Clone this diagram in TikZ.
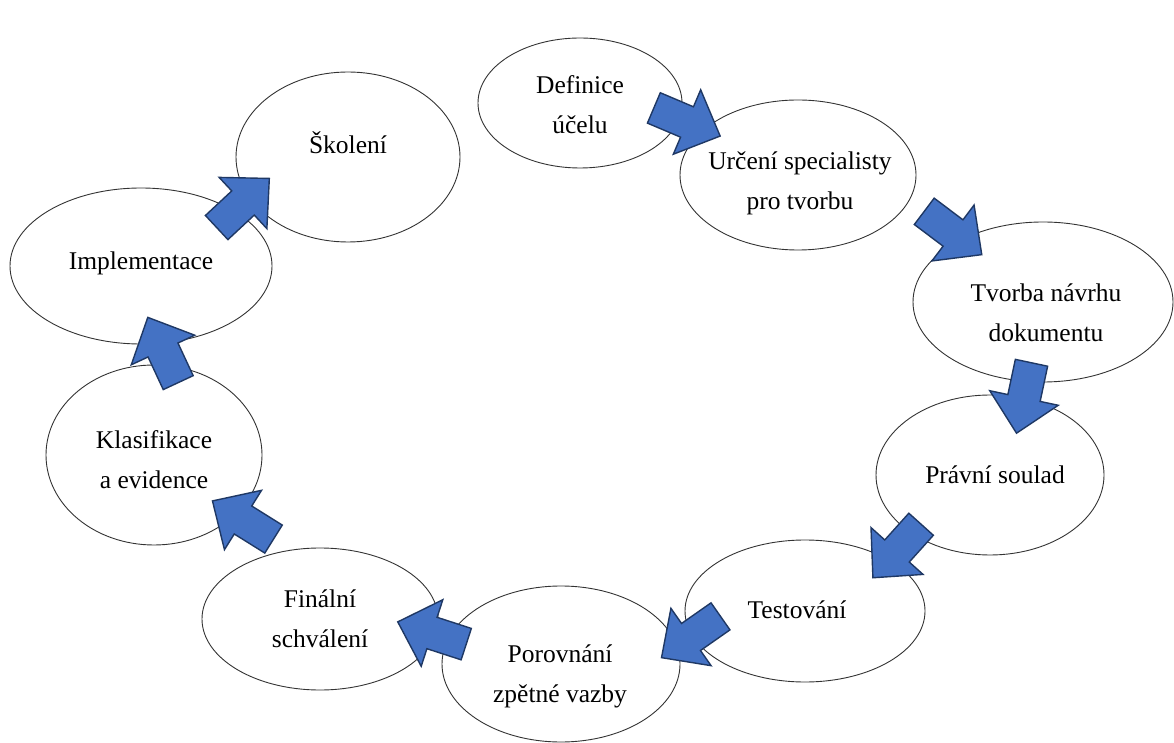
\documentclass[tikz,border=0pt]{standalone}
\usepackage{fontspec}
\setmainfont{Liberation Serif}
\usetikzlibrary{shapes.geometric}
\definecolor{arrowfill}{HTML}{4472C4}
\definecolor{arrowline}{HTML}{1F3864}
\newcommand{\blockarrow}[4]{%
  \draw[barrow, shift={(#2,#3)}, rotate=#4]
    (-36,16.5) -- (0,16.5) -- (0,35) -- (36,0) -- (0,-35) -- (0,-16.5) -- (-36,-16.5) -- cycle;
  \coordinate (#1) at (#2,#3);}
\begin{document}
\begin{tikzpicture}[x=1pt,y=1pt,
  oval/.style={ellipse, draw=black!80, line width=0.9pt, inner sep=0pt},
  lbl/.style={align=center, font=\fontsize{25.5}{40}\selectfont, inner sep=0pt},
  barrow/.style={fill=arrowfill, draw=arrowline, line width=1.4pt, line join=miter}]
\useasboundingbox (0,0) rectangle (1174,742);
% ellipses (centre, width = 2 rx, height = 2 ry)
\node[oval, minimum width=204pt, minimum height=130pt] (d1) at (580,639) {};
\node[oval, minimum width=236pt, minimum height=150pt] (d2) at (798,567) {};
\node[oval, minimum width=260pt, minimum height=160pt] (d3) at (1043,440) {};
\node[oval, minimum width=228pt, minimum height=160pt] (d4) at (990,267) {};
\node[oval, minimum width=240pt, minimum height=142pt] (d5) at (805,131) {};
\node[oval, minimum width=238pt, minimum height=156pt] (d6) at (561,78) {};
\node[oval, minimum width=236pt, minimum height=142pt] (d7) at (320,123) {};
\node[oval, minimum width=216pt, minimum height=180pt] (d8) at (154,287) {};
\node[oval, minimum width=262pt, minimum height=156pt] (d9) at (141,476) {};
\node[oval, minimum width=224pt, minimum height=170pt] (d10) at (348,585) {};
% texts
\node[lbl] (t1) at (580,637) {Definice\\účelu};
\node[lbl] (t2) at (800,559) {Určení specialisty\\pro tvorbu};
\node[lbl] (t3) at (1046,429) {Tvorba návrhu\\dokumentu};
\node[lbl] (t4) at (995,267) {Právní soulad};
\node[lbl] (t5) at (797,132) {Testování};
\node[lbl] (t6) at (560,66) {Porovnání\\zpětné vazby};
\node[lbl] (t7) at (320,123) {Finální\\schválení};
\node[lbl] (t8) at (154,282) {Klasifikace\\a evidence};
\node[lbl] (t9) at (141,479) {Implementace};
\node[lbl] (t10) at (348,599) {Školení};
% block arrows between the steps
\blockarrow{a1}{687}{620}{-23}
\blockarrow{a2}{953}{509}{-37}
\blockarrow{a3}{1024}{344}{-102}
\blockarrow{a4}{897}{191}{-132}
\blockarrow{a5}{691}{105}{-145}
\blockarrow{a6}{432}{109}{162}
\blockarrow{a7}{243}{222}{148}
\blockarrow{a8}{163}{392}{115}
\blockarrow{a9}{243}{539}{43}
\end{tikzpicture}
\end{document}
